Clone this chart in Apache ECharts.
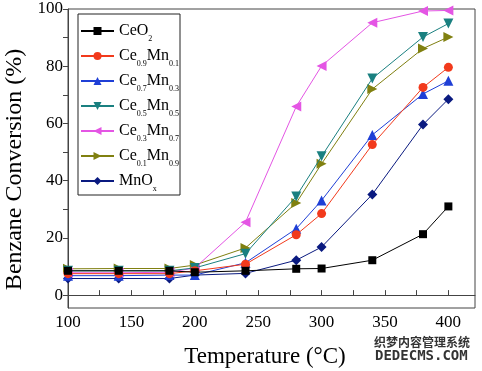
<!DOCTYPE html>
<html><head><meta charset="utf-8">
<script src="https://cdn.jsdelivr.net/npm/echarts@6/dist/echarts.min.js"></script>
<style>html,body{margin:0;padding:0;background:#fff}#c{width:482px;height:371px}</style>
</head><body><div id="c"></div>
<script>
var temperatures = [100, 140, 180, 200, 240, 280, 300, 340, 380, 400];
var ceo2      = [8.5, 8.5, 8.5, 8.0, 8.5, 9.2, 9.3, 12.2, 21.3, 31.0];
var ce09mn01  = [7.5, 7.5, 7.5, 8.5, 10.8, 21.1, 28.5, 52.6, 72.6, 79.6];
var ce07mn03  = [6.8, 6.8, 7.0, 7.0, 11.3, 23.2, 33.1, 56.0, 70.3, 74.9];
var ce05mn05  = [8.5, 8.5, 8.5, 9.5, 14.5, 34.5, 48.5, 75.7, 90.2, 94.9];
var ce03mn07  = [7.8, 7.8, 8.0, 9.5, 25.5, 65.9, 80.1, 95.2, 99.3, 99.5];
var ce01mn09  = [9.2, 9.3, 9.3, 10.5, 16.5, 32.2, 45.9, 72.0, 86.2, 90.2];
var mnox      = [5.8, 5.8, 5.8, 7.0, 7.6, 12.2, 16.8, 35.2, 59.6, 68.5];
var seriesNames = ['CeO2', 'Ce0.9Mn0.1', 'Ce0.7Mn0.3', 'Ce0.5Mn0.5', 'Ce0.3Mn0.7', 'Ce0.1Mn0.9', 'MnOx'];
var legendRich = {
  'CeO2': '{a|CeO}{s|2}',
  'Ce0.9Mn0.1': '{a|Ce}{s|0.9}{a|Mn}{s|0.1}',
  'Ce0.7Mn0.3': '{a|Ce}{s|0.7}{a|Mn}{s|0.3}',
  'Ce0.5Mn0.5': '{a|Ce}{s|0.5}{a|Mn}{s|0.5}',
  'Ce0.3Mn0.7': '{a|Ce}{s|0.3}{a|Mn}{s|0.7}',
  'Ce0.1Mn0.9': '{a|Ce}{s|0.1}{a|Mn}{s|0.9}',
  'MnOx': '{a|MnO}{s|x}'
};
var xTickLabels = [100, 150, 200, 250, 300, 350, 400];
var xTicks = [100, 125, 150, 175, 200, 225, 250, 275, 300, 325, 350, 375, 400];
var yTickLabels = [0, 20, 40, 60, 80, 100];
var yTicks = [0, 10, 20, 30, 40, 50, 60, 70, 80, 90, 100];

var allData = [ceo2, ce09mn01, ce07mn03, ce05mn05, ce03mn07, ce01mn09, mnox];
var colors = ['#000000', '#f23a1c', '#1f3fd6', '#1a8080', '#e455e4', '#808010', '#0a1a80'];
var symbols = ['rect', 'circle', 'triangle', 'triangle', 'triangle', 'triangle', 'diamond'];
var rotations = [0, 0, 0, 180, 90, -90, 0];
var sizes = [8, 9, 10, 10, 10, 10, 10];

var font = '"Liberation Serif", "Times New Roman", serif';
var chart = echarts.init(document.getElementById('c'), null, {renderer: 'canvas'});
var series = seriesNames.map(function (n, i) {
  return {
    name: n, type: 'line',
    data: temperatures.map(function (t, k) { return [t, allData[i][k]]; }),
    symbol: symbols[i], symbolRotate: rotations[i], symbolSize: sizes[i],
    lineStyle: {color: colors[i], width: 1},
    itemStyle: {color: colors[i]},
    z: 10 - i
  };
});
chart.setOption({
  animation: false,
  backgroundColor: '#fff',
  color: colors,
  grid: {left: 68, right: 7, top: 9, bottom: 63, show: true, borderColor: '#444', borderWidth: 1,
         containLabel: false, outerBoundsMode: 'none'},
  legend: {
    orient: 'vertical', left: 78, top: 14,
    padding: [5, 1, 2, 2], itemGap: 1,
    borderColor: '#222', borderWidth: 1,
    itemWidth: 33, itemHeight: 10,
    data: seriesNames,
    formatter: function (n) { return legendRich[n]; },
    textStyle: {
      fontFamily: font, color: '#000',
      rich: {
        a: {fontFamily: font, fontSize: 16, color: '#000', lineHeight: 24},
        s: {fontFamily: font, fontSize: 8, color: '#000', lineHeight: 8, padding: [16, 0, 0, 0]}
      }
    }
  },
  xAxis: {
    type: 'value', min: 100, max: 421,
    name: 'Temperature (°C)', nameLocation: 'middle', nameGap: 37,
    nameTextStyle: {fontFamily: font, fontSize: 23, color: '#000', padding: [0, 13, 0, 0]},
    axisLine: {show: true, lineStyle: {color: '#444', width: 1}},
    axisTick: {show: true, inside: true, length: 5, customValues: xTicks, lineStyle: {color: '#444'}},
    axisLabel: {customValues: xTickLabels, fontFamily: font, fontSize: 17, color: '#000', margin: 6},
    splitLine: {show: false}
  },
  yAxis: {
    type: 'value', min: -4.5, max: 100,
    name: 'Benzane Conversion (%)', nameLocation: 'middle', nameGap: 39,
    nameTextStyle: {fontFamily: font, fontSize: 24, color: '#000', padding: [0, 22, 0, 0]},
    axisLine: {show: true, lineStyle: {color: '#444', width: 1}},
    axisTick: {show: true, inside: false, length: 5, customValues: yTicks, lineStyle: {color: '#444'}},
    axisLabel: {customValues: yTickLabels, fontFamily: font, fontSize: 17, color: '#000', margin: 5},
    splitLine: {show: false}
  },
  graphic: [
    {type: 'text', left: 374, top: 336, style: {text: '织梦内容管理系统', font: 'bold 12px "Noto Sans CJK SC"', fill: '#333'}},
    {type: 'text', left: 375, top: 349, style: {text: 'DEDECMS.COM', font: 'bold 14px "DejaVu Sans Mono"', fill: '#333'}}
  ],
  series: series
});
</script>
</body></html>
